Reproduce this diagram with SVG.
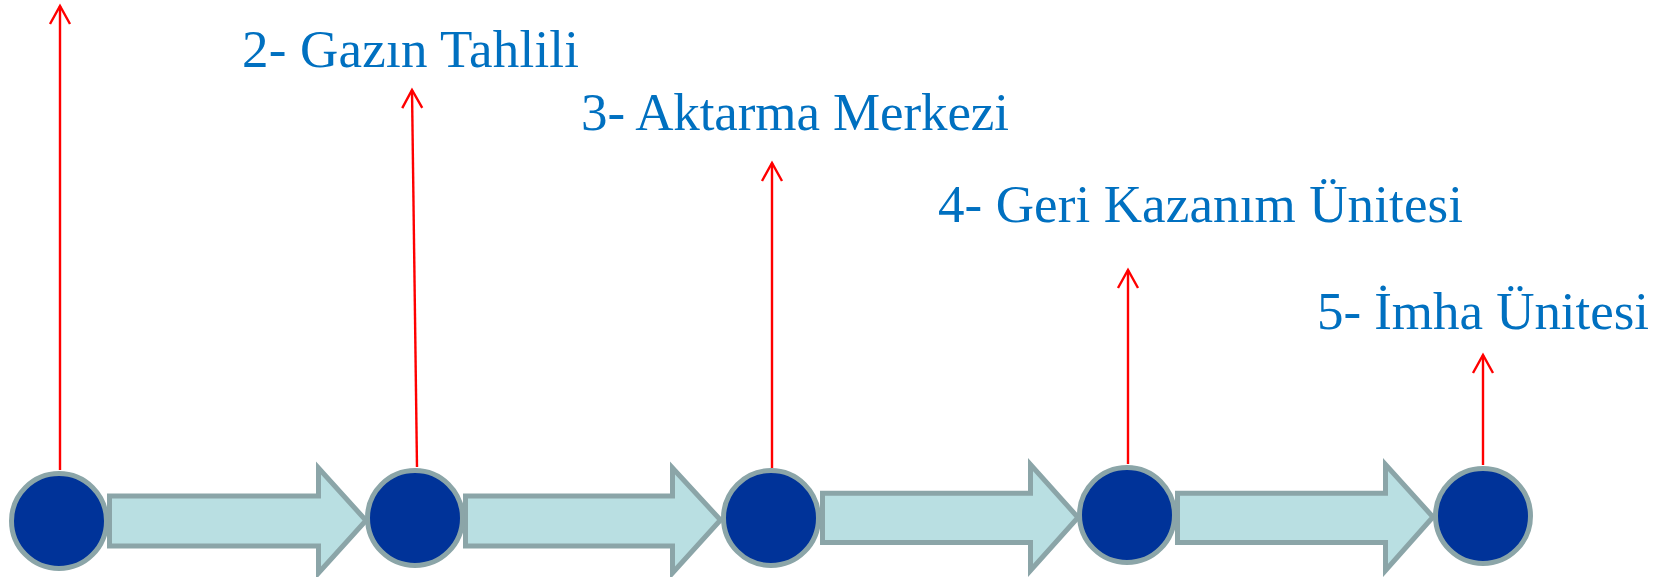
<svg xmlns="http://www.w3.org/2000/svg" width="1670" height="577" viewBox="0 0 1670 577">
<style>
.node{fill:#003399;stroke:#8BA5A8;stroke-width:5}
.flow{fill:#B9DFE2;stroke:#8BA5A8;stroke-width:5;stroke-linejoin:miter}
.lead{stroke:#FF0000;stroke-width:2.4;fill:none;marker-end:url(#open)}
.lbl{font-family:"Liberation Serif","Times New Roman",serif;font-size:53px;fill:#0070C0}
</style>
<defs>
<marker id="open" markerUnits="userSpaceOnUse" markerWidth="30" markerHeight="30" refX="20" refY="15" orient="auto" viewBox="0 0 30 30">
<path d="M2 5 L20 15 L2 25" fill="none" stroke="#FF0000" stroke-width="2.4"/>
</marker>
</defs>
<rect width="1670" height="577" fill="#FFFFFF"/>
<g id="connectors">
<path class="flow" d="M109.5 496 H318.5 V468 L366 520.5 L318.5 573 V546 H109.5 Z"/>
<path class="flow" d="M465.5 496 H672.5 V468 L720.5 520 L672.5 573 V546 H465.5 Z"/>
<path class="flow" d="M822.5 493.2 H1030.5 V464.5 L1078 517.5 L1030.5 570.5 V542.5 H822.5 Z"/>
<path class="flow" d="M1177.5 493.2 H1385.5 V464.5 L1433 517 L1385.5 570.5 V542.5 H1177.5 Z"/>
<line class="lead" x1="60" y1="470" x2="60" y2="6"/>
<line class="lead" x1="417" y1="467" x2="412" y2="90"/>
<line class="lead" x1="772" y1="468" x2="772" y2="163"/>
<line class="lead" x1="1128" y1="464" x2="1128" y2="270"/>
<line class="lead" x1="1483" y1="465" x2="1483" y2="355"/>
</g>
<g id="node1"><circle class="node" cx="59" cy="521" r="47.5"/></g>
<g id="node2"><circle class="node" cx="415" cy="518" r="47.5"/></g>
<g id="node3"><circle class="node" cx="771" cy="518" r="47.5"/></g>
<g id="node4"><circle class="node" cx="1127" cy="515" r="47.5"/></g>
<g id="node5"><circle class="node" cx="1483" cy="516" r="47.5"/></g>
<g id="label2"><text class="lbl" x="242" y="66.5" textLength="337" lengthAdjust="spacing">2- Gazın Tahlili</text></g>
<g id="label3"><text class="lbl" x="581" y="129.5" textLength="428" lengthAdjust="spacing">3- Aktarma Merkezi</text></g>
<g id="label4"><text class="lbl" x="938" y="222" textLength="525" lengthAdjust="spacing">4- Geri Kazanım Ünitesi</text></g>
<g id="label5"><text class="lbl" x="1317" y="329" textLength="332" lengthAdjust="spacing">5- İmha Ünitesi</text></g>
</svg>
